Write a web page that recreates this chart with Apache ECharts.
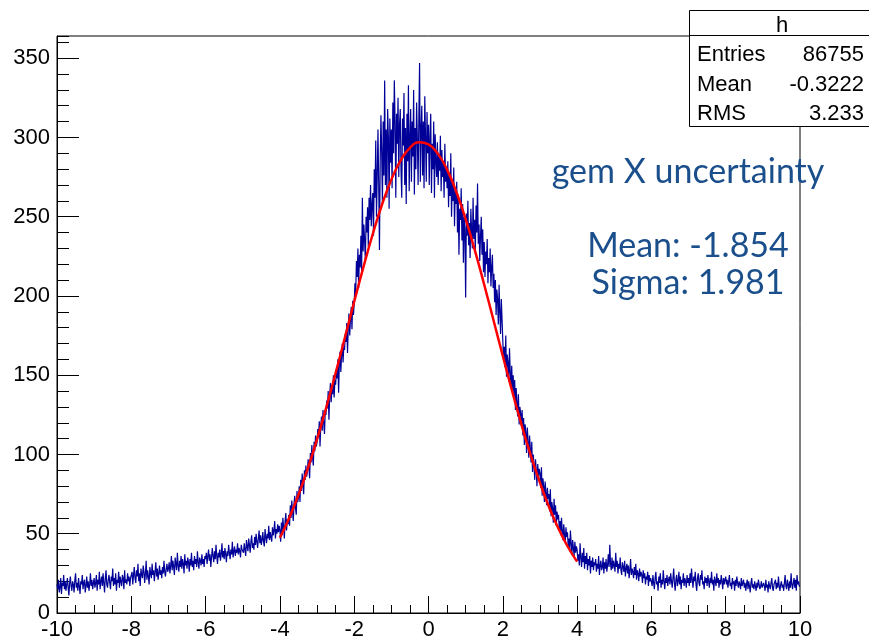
<!DOCTYPE html>
<html>
<head>
<meta charset="utf-8">
<script src="https://cdn.jsdelivr.net/npm/echarts@6/dist/echarts.min.js"></script>
<style>html,body{margin:0;padding:0;background:#fff}#c{width:869px;height:641px}</style>
</head>
<body>
<div id="c"></div>
<script>
// Histogram "h": 1000 bins from -10 to 10 (values read per bin, left to right)
var xMin = -10, xMax = 10;
var binCounts = [
 18,15,21,13,16,22,12,19,17,24,15,20,14,18,22,16,11,19,23,17,14,20,18,13,21,25,16,19,14,22,17,12,20,18,24,15,19,21,13,17,23,16,20,14,18,25,17,21,15,19,
 22,16,19,24,14,21,18,26,15,20,23,17,25,19,13,22,27,18,16,21,24,19,15,23,20,28,17,22,18,25,14,21,19,26,16,23,20,17,24,22,15,27,19,21,18,25,20,23,17,22,
 21,26,18,24,29,22,19,27,23,31,20,25,17,28,24,22,30,26,19,25,33,21,27,23,18,29,25,22,31,24,27,20,26,32,23,28,21,25,30,24,27,22,29,25,33,26,23,28,31,26,
 28,32,25,30,36,27,33,29,24,35,31,27,38,30,26,33,29,36,28,34,31,25,37,30,33,28,35,32,26,34,30,38,29,33,27,36,31,34,29,39,32,28,35,33,30,37,31,34,29,36,
 34,38,31,36,40,33,37,29,35,41,36,32,39,34,43,36,31,38,35,40,33,37,44,35,39,34,41,37,32,39,36,43,38,34,40,37,45,35,39,42,36,40,38,44,37,41,39,35,43,40,
 41,38,44,40,36,46,42,39,47,43,38,45,49,41,44,40,48,43,50,45,41,47,52,44,49,43,46,51,45,42,53,48,44,50,47,55,46,51,48,45,54,49,52,58,47,53,50,56,51,55,
 52,45,57,49,60,54,47,58,63,52,59,56, 62,55,68,60,71,64,58,69,74,66,62,77,70, 73,80,70,84,77,88,81,75,90,84,93,86, 89,97,92,85,101,95,106,98,93,108,102,112,105,
 108,116,111,121,105,118,124,115,128,120,113,127, 125,134,129,140,122,137,145,133,141,138,150,136,147, 144,153,148,160,139,157,165,152,163,170,158,168, 166,176,171,183,164,180,189,175,186,193,179,197,188,
 195,208,201,222,212,230,205,226,218,238,215,262, 228,245,235,222,250,240,256,231,262,248,270,244,258, 265,238,280,262,298,250,276,305,270,229,285,314, 290,258,310,276,336,270,305,262,318,300,255,312,284,
 305,268,322,290,336,310,262,315,296,325,275,308, 318,280,262,312,295,328,270,306,258,315,285,333,266, 300,318,272,310,288,330,264,306,280,322,299,270, 312,347,272,305,320,276,310,268,326,300,272,316,290,
 308,270,300,315,265,296,280,310,262,302,285,275, 297,270,288,279,301,266,292,275,284,262,296,272,281, 268,285,256,277,263,290,250,272,260,281,244,266, 258,272,240,264,226,255,248,268,235,258,221,250,242,
 199,252,238,260,232,246,224,255,241,230,262,236, 248,228,257,240,271,233,245,222,238,250,226,242,215, 234,212,228,220,236,208,224,215,230,206,218,226, 205,214,196,210,188,204,198,182,207,190,176,198,185,
 172,160,168,155,175,149,163,158,146,167,152,143, 156,140,150,135,147,128,142,133,124,138,119,130,126, 118,128,112,123,106,119,114,101,117,108,98,112, 104,95,108,89,100,93,84,97,90,80,94,86,91,
 88,79,92,74,85,80,70,83,76,68,79,72, 75,64,78,61,70,66,57,72,62,68,55,64,59, 62,53,58,49,60,52,46,56,50,44,54,48, 51,42,47,39,52,44,37,46,41,36,45,38,42,
 40,33,37,30,44,35,29,38,32,41,28,36, 31,38,27,34,30,36,25,33,29,35,27,32,30, 34,26,31,28,36,24,30,33,27,29,35,25, 32,28,34,26,30,37,29,43,31,27,35,28,33,
 30,26,38,29,33,25,31,28,35,27,24,32, 29,26,33,23,28,31,25,30,22,27,34,24,28, 26,22,29,24,31,21,27,25,20,28,23,26, 24,19,27,22,25,18,23,21,26,17,24,20,22,
 21,17,24,19,15,22,26,18,20,14,23,19,25,16,21,18,27,20,15,22,19,24,17,21,23, 18,25,20,16,22,28,19,14,21,24,17,20,26,18,23,15,21,19,25,17,22,20,16,24,19,
 22,17,25,19,28,21,16,23,20,26,18,14,22,25,19,17,24,21,27,18,20,15,23,19,22, 17,24,20,16,22,19,26,18,21,14,23,20,17,25,19,22,16,21,18,24,20,15,22,18,21,
 23,18,21,16,20,24,17,19,15,22,18,20,14,21,17,23,19,16,20,18,15,22,17,19,21, 16,19,14,18,21,15,20,17,13,19,22,16,18,15,20,17,14,19,16,21,18,15,17,20,16,
 15,19,17,14,21,16,18,13,20,17,15,19,22,16,14,18,17,21,15,19,16,23,17,14,18, 20,16,18,14,19,24,17,15,21,18,14,20,16,25,18,15,19,22,16,21,14,24,18,20,17
];
// Gaussian fit curve, read at x = -4 .. 4 step 0.25
var fitX = [-4,-3.75,-3.5,-3.25,-3,-2.75,-2.5,-2.25,-2,-1.75,-1.5,-1.25,-1,-0.75,-0.5,-0.25,0,0.25,0.5,0.75,1,1.25,1.5,1.75,2,2.25,2.5,2.75,3,3.25,3.5,3.75,4];
var fitY = [47.5,60,74.5,91.1,109.6,129.8,151.4,173.8,196.4,218.4,239.1,257.7,273.4,285.5,293.4,296.9,295.6,289.8,279.7,265.6,248.4,228.6,207.1,184.7,162.1,140.1,119.1,99.7,82.2,66.6,53.2,41.8,32.4];
// Axis ticks
var xTickLabels = [-10,-8,-6,-4,-2,0,2,4,6,8,10];
var yTickLabels = [0,50,100,150,200,250,300,350];
var yTop = 364;
// Stats box and text
var statsTitle = 'h';
var statsRows = [['Entries','86755'],['Mean','-0.3222'],['RMS','3.233']];
var fitTitle = 'gem X uncertainty';
var fitLines = ['Mean: -1.854','Sigma: 1.981'];

var binW = (xMax - xMin) / binCounts.length;
var histData = binCounts.map(function(v, i){ return [xMin + i * binW, v]; });
histData.push([xMax, binCounts[binCounts.length - 1]]);
var fitData = fitX.map(function(x, i){ return [x, fitY[i]]; });

var chart = echarts.init(document.getElementById('c'), null, {renderer: 'canvas'});
var font = 'Liberation Sans, Arial, Helvetica, sans-serif';
var blue = '#1a4f8c';

var graphics = [
  {type:'rect', shape:{x:689.5, y:10.5, width:200, height:116}, style:{fill:'#fff', stroke:'#000', lineWidth:1}, z:100},
  {type:'line', shape:{x1:689.5, y1:35.5, x2:889, y2:35.5}, style:{stroke:'#000', lineWidth:1}, z:101},
  {type:'text', x:782, y:26, style:{text:statsTitle, font:'22px ' + font, fill:'#000', textAlign:'center', textVerticalAlign:'middle'}, z:101}
];
statsRows.forEach(function(r, i){
  var y = 55 + i * 29.5;
  graphics.push({type:'text', x:697, y:y, style:{text:r[0], font:'22px ' + font, fill:'#000', textAlign:'left', textVerticalAlign:'middle'}, z:101});
  graphics.push({type:'text', x:864, y:y, style:{text:r[1], font:'22px ' + font, fill:'#000', textAlign:'right', textVerticalAlign:'middle'}, z:101});
});
graphics.push({type:'text', x:688, y:172, style:{text:fitTitle, font:'34px Lato, sans-serif', fill:blue, textAlign:'center', textVerticalAlign:'middle'}, z:101});
fitLines.forEach(function(t, i){
  graphics.push({type:'text', x:688, y:246 + i * 37, style:{text:t, font:'34px Lato, sans-serif', fill:blue, textAlign:'center', textVerticalAlign:'middle'}, z:101});
});

chart.setOption({
  animation: false,
  backgroundColor: '#fff',
  grid: {left:57, right:69, top:36, bottom:27, show:true, borderColor:'#000', borderWidth:1, backgroundColor:'transparent'},
  xAxis: [{
    type:'value', min:xMin, max:xMax, interval:2,
    axisLine:{show:true, onZero:false, lineStyle:{color:'#000', width:1}},
    axisTick:{show:true, inside:true, length:17, lineStyle:{color:'#000'}},
    minorTick:{show:true, splitNumber:4, length:8, lineStyle:{color:'#000'}},
    splitLine:{show:false}, minorSplitLine:{show:false},
    axisLabel:{show:true, margin:6, color:'#000', fontSize:22, fontFamily:font,
      formatter:function(v){ return xTickLabels.indexOf(Math.round(v)) >= 0 ? String(Math.round(v)) : ''; }}
  }],
  yAxis: [{
    type:'value', min:0, max:yTop, interval:50,
    axisLine:{show:true, onZero:false, lineStyle:{color:'#000', width:1}},
    axisTick:{show:true, inside:true, length:22, lineStyle:{color:'#000'}},
    splitLine:{show:false},
    axisLabel:{show:true, margin:7, color:'#000', fontSize:22, fontFamily:font, showMaxLabel:false,
      formatter:function(v){ return yTickLabels.indexOf(v) >= 0 ? String(v) : ''; }}
  },{
    type:'value', min:0, max:yTop, interval:10, position:'left', offset:0,
    axisLine:{show:false, onZero:false},
    axisTick:{show:true, inside:true, length:12, lineStyle:{color:'#000'}},
    splitLine:{show:false}, axisLabel:{show:false}
  }],
  series: [{
    type:'line', step:'end', data:histData, showSymbol:false, symbol:'none',
    lineStyle:{color:'#000099', width:1.2}, z:2
  },{
    type:'line', data:fitData, smooth:true, showSymbol:false, symbol:'none',
    lineStyle:{color:'#ff0000', width:2.5}, z:3
  }],
  graphic: graphics
});
</script>
</body>
</html>
